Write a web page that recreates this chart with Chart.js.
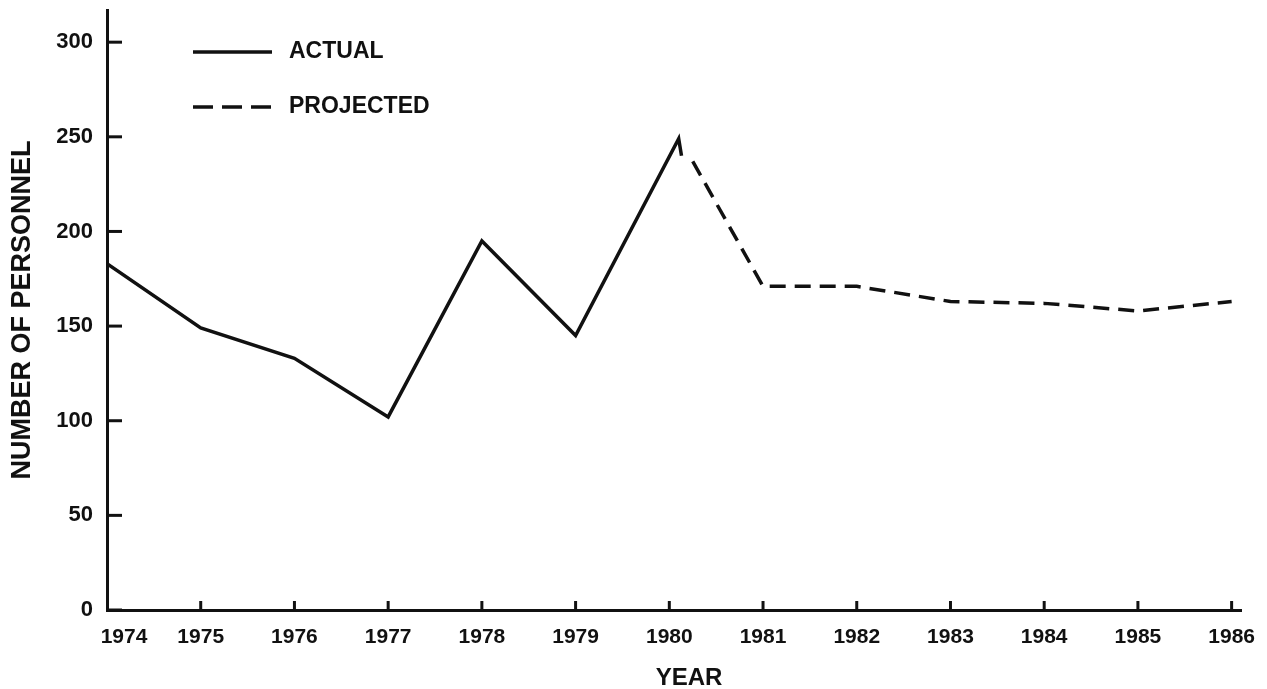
<!DOCTYPE html>
<html>
<head>
<meta charset="utf-8">
<script src="https://cdn.jsdelivr.net/npm/chart.js@4/dist/chart.umd.min.js"></script>
<style>
  body { margin: 0; background: #fff; }
  .chart-container { width: 1267px; height: 689px; }
</style>
</head>
<body>
<div class="chart-container">
  <canvas id="personnel-chart"></canvas>
</div>
<script>
// tick labels
const years = [1974, 1975, 1976, 1977, 1978, 1979, 1980, 1981, 1982, 1983, 1984, 1985, 1986]
const yTicks = [0, 50, 100, 150, 200, 250, 300]

// series (x in years, the 1980 peak sits a bit past the tick)
const actualYears = [1974, 1975, 1976, 1977, 1978, 1979, 1980.1, 1980.13]
const actualValues = [183, 149, 133, 102, 195, 145, 249, 240]
const projectedYears = [1980.25, 1981, 1982, 1983, 1984, 1985, 1986]
const projectedValues = [237, 171, 171, 163, 162, 158, 163]

const ink = '#111'
const fontFamily = '"Liberation Sans", Arial, sans-serif'
const dash = [16, 9]

const toPoints = (xs, ys) => xs.map((x, i) => ({ x, y: ys[i] }))

// ticks point inward, x labels, axis title and legend are drawn here
const decorations = {
  id: 'decorations',
  afterDraw(chart) {
    const { ctx, scales: { x, y } } = chart
    ctx.save()
    ctx.strokeStyle = ink
    ctx.fillStyle = ink
    ctx.lineWidth = 3

    yTicks.forEach(v => {
      const py = y.getPixelForValue(v)
      ctx.beginPath()
      ctx.moveTo(x.left, py)
      ctx.lineTo(x.left + 15, py)
      ctx.stroke()
    })

    ctx.font = `bold 21px ${fontFamily}`
    ctx.textAlign = 'center'
    ctx.textBaseline = 'alphabetic'
    years.forEach((yr, i) => {
      const px = x.getPixelForValue(yr)
      if (i > 0) {
        ctx.beginPath()
        ctx.moveTo(px, y.bottom)
        ctx.lineTo(px, y.bottom - 9)
        ctx.stroke()
      }
      ctx.fillText(String(yr), i === 0 ? px + 17 : px, y.bottom + 33)
    })

    ctx.font = `bold 24px ${fontFamily}`
    ctx.fillText('YEAR', (x.left + x.right) / 2 + 15, y.bottom + 75)

    // legend
    const legendItems = chart.data.datasets.map(ds => ds.label)
    legendItems.forEach((label, i) => {
      const ly = 52 + i * 55
      ctx.lineWidth = 3.5
      ctx.setLineDash(i === 0 ? [] : [20, 9])
      ctx.beginPath()
      ctx.moveTo(193, ly)
      ctx.lineTo(272, ly)
      ctx.stroke()
      ctx.setLineDash([])
      ctx.font = `bold 23px ${fontFamily}`
      ctx.textAlign = 'left'
      ctx.textBaseline = 'middle'
      ctx.fillText(label, 289, ly)
    })
    ctx.restore()
  }
}

const ctx = document.getElementById('personnel-chart').getContext('2d')
new Chart(ctx, {
  type: 'line',
  data: {
    datasets: [
      {
        label: 'ACTUAL',
        data: toPoints(actualYears, actualValues),
        borderColor: ink,
        borderWidth: 3.5,
        pointRadius: 0,
        tension: 0
      },
      {
        label: 'PROJECTED',
        data: toPoints(projectedYears, projectedValues),
        borderColor: ink,
        borderWidth: 3.5,
        borderDash: dash,
        pointRadius: 0,
        tension: 0
      }
    ]
  },
  options: {
    responsive: true,
    maintainAspectRatio: false,
    animation: false,
    layout: { padding: { top: 10, right: 26, left: 0, bottom: 0 } },
    plugins: {
      legend: { display: false },
      tooltip: { enabled: false }
    },
    scales: {
      x: {
        type: 'linear',
        min: 1974,
        max: 1986.1,
        grid: { display: false, drawTicks: false },
        border: { display: true, color: ink, width: 3 },
        ticks: { display: false },
        afterFit: scale => {
          scale.height = 79
          scale.paddingLeft = 0
          scale.paddingRight = 0
        }
      },
      y: {
        min: 0,
        max: 317,
        grid: { display: false, drawTicks: false },
        border: { display: true, color: ink, width: 3 },
        afterBuildTicks: scale => { scale.ticks = yTicks.map(value => ({ value })) },
        ticks: {
          color: ink,
          padding: 14,
          font: { family: fontFamily, size: 22, weight: 'bold' }
        },
        title: {
          display: true,
          text: 'NUMBER OF PERSONNEL',
          color: ink,
          padding: { top: 6, bottom: 0 },
          font: { family: fontFamily, size: 27, weight: 'bold' }
        },
        afterFit: scale => {
          scale.width = 107
          scale.paddingTop = 0
          scale.paddingBottom = 0
        }
      }
    }
  },
  plugins: [decorations]
})
</script>
</body>
</html>
